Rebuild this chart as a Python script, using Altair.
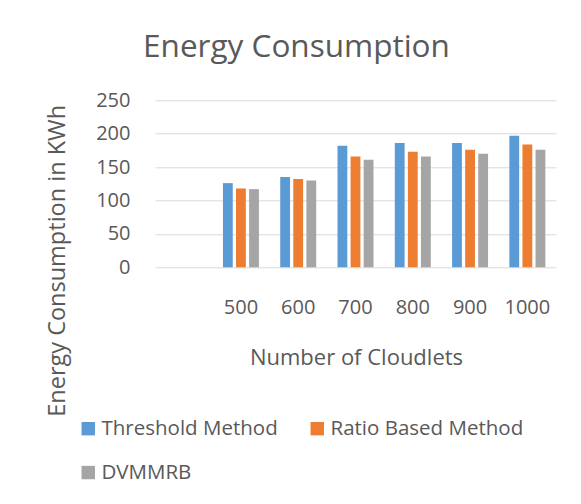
import altair as alt
import pandas as pd

categories = ["500", "600", "700", "800", "900", "1000"]
series = ["Threshold Method", "Ratio Based Method", "DVMMRB"]
threshold = [126, 135, 182, 186, 186, 197]
ratio = [118, 132, 166, 173, 176, 184]
dvmmrb = [117, 130, 161, 166, 170, 176]
colors = ["#5B9BD5", "#ED7D31", "#A5A5A5"]
y_ticks = [0, 50, 100, 150, 200, 250]

rows = []
for name, vals in zip(series, [threshold, ratio, dvmmrb]):
    for c, v in zip(categories, vals):
        rows.append({"cloudlets": c, "method": name, "energy": v})
df = pd.DataFrame(rows)

FONT = "Open Sans"
TEXT = "#595959"

chart = alt.Chart(df).mark_bar().encode(
    x=alt.X(
        "cloudlets:N",
        sort=None,
        scale=alt.Scale(domain=[""] + categories, paddingInner=0.372, paddingOuter=0.186),
        axis=alt.Axis(
            title="Number of Cloudlets", labelAngle=0, ticks=False, domain=False,
            labelPadding=30, labelFontSize=20, titleFontSize=22, grid=False,
            titleX=201, titleY=90, titleBaseline="middle", titleAlign="center",
        ),
    ),
    xOffset=alt.XOffset("method:N", scale=alt.Scale(domain=series, paddingInner=0.25, paddingOuter=0)),
    y=alt.Y(
        "energy:Q",
        scale=alt.Scale(domain=[0, 250], nice=False),
        axis=alt.Axis(
            values=y_ticks, title="Energy Consumption in KWh", ticks=False, domain=False,
            labelPadding=25, labelFontSize=20, titleFontSize=23.5,
            gridColor="#D9D9D9", gridWidth=1,
            titleX=-98, titleY=160, titleAngle=270, titleBaseline="middle", titleAlign="center",
        ),
    ),
    color=alt.Color(
        "method:N",
        scale=alt.Scale(domain=series, range=colors),
        legend=alt.Legend(
            title=None, orient="none", legendX=-77, legendY=318, direction="horizontal",
            columns=2, symbolType="square", symbolSize=180, labelFontSize=20.5, labelLimit=400,
            rowPadding=23, columnPadding=29, labelOffset=3, symbolStrokeWidth=0,
        ),
    ),
).properties(
    width=401,
    height=167,
    padding={"left": 155, "top": 100.3, "right": 25, "bottom": 236.7},
    autosize=alt.AutoSizeParams(type="none"),
    title=alt.TitleParams(
        "Energy Consumption", fontSize=31.5, font=FONT, color=TEXT, fontWeight="normal",
        anchor="middle", frame="group", dx=-59, offset=2, baseline="alphabetic",
    ),
).configure(
    background="white",
).configure_view(
    stroke=None,
).configure_axis(
    labelFont=FONT, titleFont=FONT, labelColor=TEXT, titleColor=TEXT, titleFontWeight="normal",
).configure_legend(
    labelFont=FONT, labelColor=TEXT,
)

chart.save("out.html", embed_options={"renderer": "svg", "actions": False})
